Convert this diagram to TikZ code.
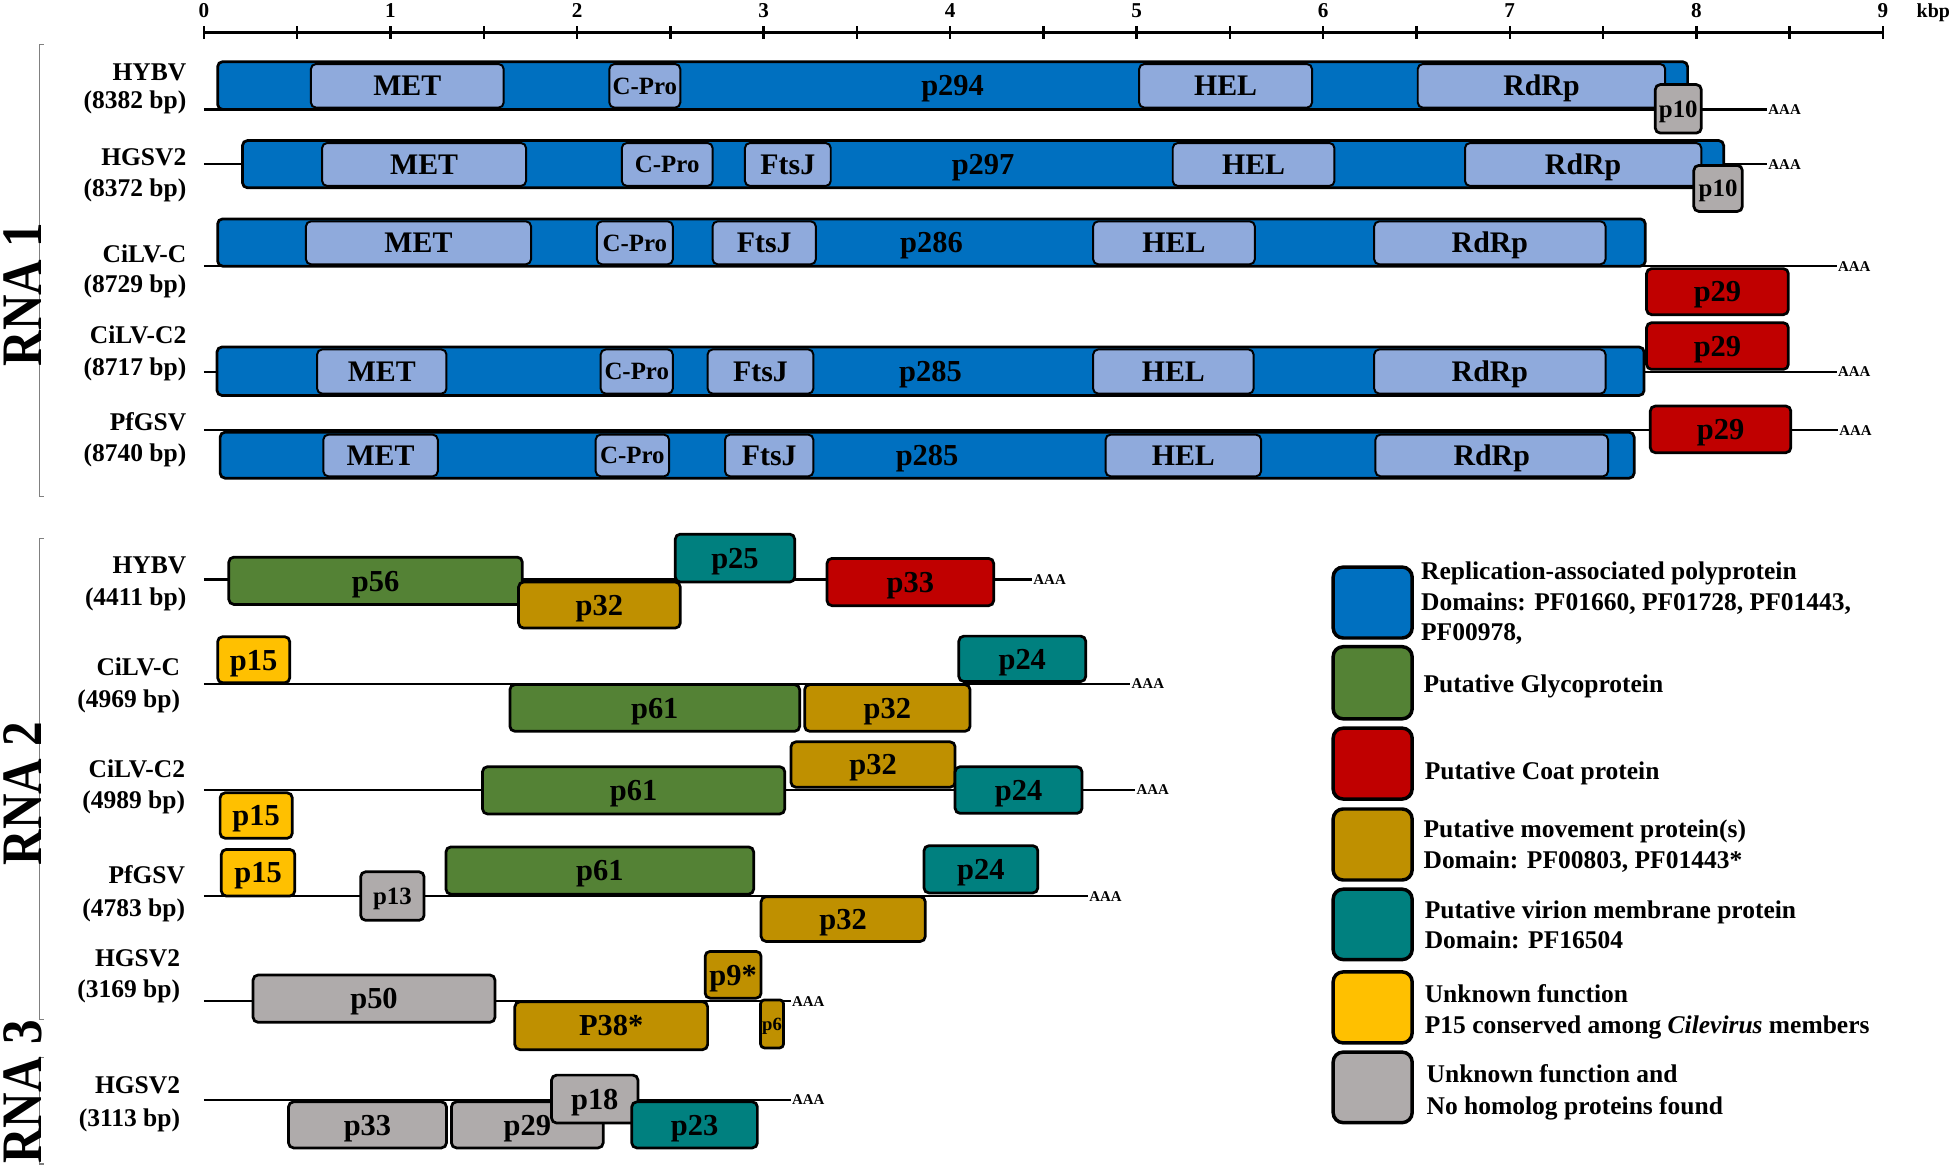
\documentclass[tikz,border=0pt]{standalone}
\usepackage{fontspec}
\setmainfont{Liberation Serif}
\usepackage{graphicx}
\definecolor{crep}{HTML}{0070C0}
\definecolor{cdom}{HTML}{8FAADC}
\definecolor{cgly}{HTML}{548235}
\definecolor{ccoat}{HTML}{C00000}
\definecolor{cmov}{HTML}{BF9000}
\definecolor{cvir}{HTML}{00807F}
\definecolor{cunk}{HTML}{FFC000}
\definecolor{cgray}{HTML}{AFABAB}
\definecolor{cbrk}{HTML}{808080}
\newcommand\gb[7]{%
 \pgfmathsetmacro\gbcx{(#3+#4)/2}%
 \pgfmathsetmacro\gbcy{(#5+#6)/2}%
 \pgfmathsetmacro\gbw{#4-#3}%
 \pgfmathsetmacro\gbh{#6-#5}%
 \node[#2, minimum width=\gbw pt, minimum height=\gbh pt] (#1) at (\gbcx,\gbcy) {#7};}
\tikzset{
 gbox/.style={draw=black, line width=2.2pt, rounded corners=4pt, inner sep=0pt, text=black,
   font=\bfseries\fontsize{24.5}{24.5}\selectfont, text height=16.5pt, text depth=0pt},
 bxrep/.style={gbox, fill=crep},
 bxdom/.style={gbox, fill=cdom, line width=1.6pt, font=\bfseries\fontsize{24}{24}\selectfont, text height=16.2pt},
 smalltxt/.style={font=\bfseries\fontsize{20}{20}\selectfont, text height=13.5pt},
 bxgly/.style={gbox, fill=cgly},
 bxcoat/.style={gbox, fill=ccoat},
 bxmov/.style={gbox, fill=cmov},
 bxvir/.style={gbox, fill=cvir},
 bxunk/.style={gbox, fill=cunk},
 bxgray/.style={gbox, fill=cgray},
 gline/.style={line width=1.7pt},
 aaa/.style={anchor=west, inner sep=0.8pt, font=\bfseries\fontsize{12}{12}\selectfont, text height=8pt, text depth=0pt},
 lab/.style={anchor=east, inner sep=0pt, font=\bfseries\fontsize{20.5}{20.5}\selectfont, text height=13.6pt, text depth=0pt},
 leg/.style={anchor=west, inner sep=0pt, font=\bfseries\fontsize{20.5}{20.5}\selectfont, text height=13.6pt, text depth=0pt},
 legbox/.style={draw=black, line width=2.8pt, rounded corners=8pt, inner sep=0pt},
 brk/.style={draw=cbrk, line width=0.9pt},
 rnalab/.style={rotate=90, inner sep=0pt, font=\bfseries\fontsize{46}{46}\selectfont, text height=30.5pt, text depth=0pt},
 axlab/.style={inner sep=0pt, font=\bfseries\fontsize{17}{17}\selectfont, text height=11.5pt, text depth=0pt},
}
\begin{document}
\begin{tikzpicture}[x=1pt,y=-1pt]
\useasboundingbox[fill=white] (0,0) rectangle (1568,938);

% ---------- axis ----------
\coordinate (axs) at (164,26);
\coordinate (axe) at (1514,26);
\draw[line width=2.5pt] (axs) -- (axe);
\foreach \i in {0,...,18}{\draw[line width=2pt] ({164+75*\i},21) -- ({164+75*\i},31.6);}
\foreach \i in {0,...,9}{\node[axlab] (ax\i) at ({164+150*\i},8.5) {\i};}
\node[axlab, anchor=west, font=\bfseries\fontsize{16}{16}\selectfont] (kbp) at (1541,8.5) {kbp};

% ---------- brackets and RNA labels ----------
\draw[brk] (35,36) -- (32,36) -- (32,399) -- (35,399);
\draw[brk] (35,433) -- (32,433) -- (32,820) -- (35,820);
\draw[brk] (35,850) -- (32,850) -- (32,936) -- (35,936);
\node[rnalab] (rna1) at (18,237) {\scalebox{0.86}[1]{RNA 1}};
\node[rnalab] (rna2) at (18,638) {\scalebox{0.86}[1]{RNA 2}};
\node[rnalab] (rna3) at (18,878) {\scalebox{0.86}[1]{RNA 3}};

% ---------- RNA 1 labels ----------
\node[lab] (l1a) at (150,58) {HYBV};
\node[lab] (l1b) at (150,80.5) {(8382 bp)};
\node[lab] (l2a) at (150,126) {HGSV2};
\node[lab] (l2b) at (150,151) {(8372 bp)};
\node[lab] (l3a) at (150,204) {CiLV-C};
\node[lab] (l3b) at (150,228) {(8729 bp)};
\node[lab] (l4a) at (150,269.5) {CiLV-C2};
\node[lab] (l4b) at (150,295) {(8717 bp)};
\node[lab] (l5a) at (150,339) {PfGSV};
\node[lab] (l5b) at (150,364.5) {(8740 bp)};

% ---------- RNA 1: HYBV ----------
\coordinate (s1) at (164,88);
\node[aaa] (a1) at (1421,88) {AAA};
\draw[gline] (s1) -- (a1.west);
\gb{h1}{bxrep}{175}{1357}{49.6}{88}{p294}
\gb{h1met}{bxdom}{250}{405}{51.5}{86.5}{MET}
\gb{h1cp}{bxdom,smalltxt}{490}{547}{51.5}{86.5}{C-Pro}
\gb{h1hel}{bxdom}{916}{1055}{51.5}{86.5}{HEL}
\gb{h1rd}{bxdom}{1140}{1339}{51.5}{86.5}{RdRp}
\gb{h1p10}{bxgray,smalltxt}{1331}{1368}{68}{107}{p10}

% ---------- RNA 1: HGSV2 ----------
\coordinate (s2) at (164,132);
\node[aaa] (a2) at (1421,132) {AAA};
\draw[gline] (s2) -- (a2.west);
\gb{h2}{bxrep}{195}{1386}{113}{151}{p297}
\gb{h2met}{bxdom}{259}{423}{115}{149.5}{MET}
\gb{h2cp}{bxdom,smalltxt}{500}{573}{115}{149.5}{C-Pro}
\gb{h2ft}{bxdom}{599}{668}{115}{149.5}{FtsJ}
\gb{h2hel}{bxdom}{943}{1073}{115}{149.5}{HEL}
\gb{h2rd}{bxdom}{1178}{1368}{115}{149.5}{RdRp}
\gb{h2p10}{bxgray,smalltxt}{1362}{1401}{133}{170}{p10}

% ---------- RNA 1: CiLV-C ----------
\coordinate (s3) at (164,214);
\node[aaa] (a3) at (1477,214) {AAA};
\draw[gline] (s3) -- (a3.west);
\gb{h3}{bxrep}{175}{1323}{176}{214}{p286}
\gb{h3met}{bxdom}{246}{427}{178}{212.5}{MET}
\gb{h3cp}{bxdom,smalltxt}{480}{541}{178}{212.5}{C-Pro}
\gb{h3ft}{bxdom}{573}{656}{178}{212.5}{FtsJ}
\gb{h3hel}{bxdom}{879}{1009}{178}{212.5}{HEL}
\gb{h3rd}{bxdom}{1105}{1291}{178}{212.5}{RdRp}
\gb{h3p29}{bxcoat}{1324}{1438}{216}{253}{p29}

% ---------- RNA 1: CiLV-C2 ----------
\coordinate (s4) at (164,299);
\node[aaa] (a4) at (1477,299) {AAA};
\draw[gline] (s4) -- (a4.west);
\gb{h4}{bxrep}{174.5}{1322}{279}{318}{p285}
\gb{h4met}{bxdom}{255}{359}{281}{316.5}{MET}
\gb{h4cp}{bxdom,smalltxt}{483}{541}{281}{316.5}{C-Pro}
\gb{h4ft}{bxdom}{569}{654}{281}{316.5}{FtsJ}
\gb{h4hel}{bxdom}{879}{1008}{281}{316.5}{HEL}
\gb{h4rd}{bxdom}{1105}{1291}{281}{316.5}{RdRp}
\gb{h4p29}{bxcoat}{1324}{1438}{259.5}{297}{p29}

% ---------- RNA 1: PfGSV ----------
\coordinate (s5) at (164,346);
\node[aaa] (a5) at (1478,346) {AAA};
\draw[gline] (s5) -- (a5.west);
\gb{h5}{bxrep}{177}{1314}{347.5}{384.5}{p285}
\gb{h5met}{bxdom}{260}{352}{349.5}{383}{MET}
\gb{h5cp}{bxdom,smalltxt}{479}{538}{349.5}{383}{C-Pro}
\gb{h5ft}{bxdom}{583}{654}{349.5}{383}{FtsJ}
\gb{h5hel}{bxdom}{889}{1014}{349.5}{383}{HEL}
\gb{h5rd}{bxdom}{1106}{1293}{349.5}{383}{RdRp}
\gb{h5p29}{bxcoat}{1327}{1440}{326.5}{364}{p29}

% ---------- RNA 2 labels ----------
\node[lab] (m1a) at (150,454) {HYBV};
\node[lab] (m1b) at (150,480) {(4411 bp)};
\node[lab] (m2a) at (145,536) {CiLV-C};
\node[lab] (m2b) at (145,562) {(4969 bp)};
\node[lab] (m3a) at (149,618) {CiLV-C2};
\node[lab] (m3b) at (149,643) {(4989 bp)};
\node[lab] (m4a) at (149,703.6) {PfGSV};
\node[lab] (m4b) at (149,730) {(4783 bp)};
\node[lab] (m5a) at (145,770) {HGSV2};
\node[lab] (m5b) at (145,795) {(3169 bp)};
\node[lab] (n1a) at (145,872.5) {HGSV2};
\node[lab] (n1b) at (145,899) {(3113 bp)};

% ---------- RNA 2: HYBV ----------
\coordinate (t1) at (164,466);
\node[aaa] (b1) at (830,466) {AAA};
\draw[gline] (t1) -- (b1.west);
\gb{r1p56}{bxgly}{184}{420}{448}{486}{p56}
\gb{r1p32}{bxmov}{417}{547}{468}{505}{p32}
\gb{r1p25}{bxvir}{543}{639}{429.5}{468}{p25}
\gb{r1p33}{bxcoat}{665}{799}{449}{487}{p33}

% ---------- RNA 2: CiLV-C ----------
\coordinate (t2) at (164,550);
\node[aaa] (b2) at (909,550) {AAA};
\draw[gline] (t2) -- (b2.west);
\gb{r2p15}{bxunk}{175}{233}{512}{549}{p15}
\gb{r2p24}{bxvir}{771}{873}{511.5}{548}{p24}
\gb{r2p61}{bxgly}{410}{643}{550.5}{588}{p61}
\gb{r2p32}{bxmov}{647}{780}{550.5}{588}{p32}

% ---------- RNA 2: CiLV-C2 ----------
\coordinate (t3) at (164,635);
\node[aaa] (b3) at (913,635) {AAA};
\draw[gline] (t3) -- (b3.west);
\gb{r3p15}{bxunk}{177}{235}{637.5}{674}{p15}
\gb{r3p61}{bxgly}{388}{631}{616.5}{654.5}{p61}
\gb{r3p32}{bxmov}{636}{768}{596.5}{633}{p32}
\gb{r3p24}{bxvir}{768}{870}{616.5}{654}{p24}

% ---------- RNA 2: PfGSV ----------
\coordinate (t4) at (164,720.5);
\node[aaa] (b4) at (875,720.5) {AAA};
\draw[gline] (t4) -- (b4.west);
\gb{r4p15}{bxunk}{178}{237}{683}{720.5}{p15}
\gb{r4p13}{bxgray,smalltxt}{290}{341}{701}{740}{p13}
\gb{r4p61}{bxgly}{358.6}{606}{681}{719}{p61}
\gb{r4p24}{bxvir}{743}{834.5}{680}{718}{p24}
\gb{r4p32}{bxmov}{612}{744}{721}{757}{p32}

% ---------- RNA 2: HGSV2 ----------
\coordinate (t5) at (164,805);
\node[aaa] (b5) at (636,805) {AAA};
\draw[gline] (t5) -- (b5.west);
\gb{r5p50}{bxgray}{203.5}{398}{784}{822}{p50}
\gb{r5p38}{bxmov}{414}{569}{805.5}{844}{P38*}
\gb{r5p9}{bxmov}{567}{612}{765}{802.6}{p9*}
\gb{r5p6}{bxmov,rounded corners=3pt,font=\bfseries\fontsize{15}{15}\selectfont,text height=10pt}{611.6}{630}{804}{842.6}{p6}

% ---------- RNA 3: HGSV2 ----------
\coordinate (t6) at (164,884.5);
\node[aaa] (b6) at (636,884.5) {AAA};
\draw[gline] (t6) -- (b6.west);
\gb{q1p33}{bxgray}{232}{359}{886}{923}{p33}
\gb{q1p29}{bxgray}{363}{485}{886}{923}{p29}
\gb{q1p18}{bxgray}{443.5}{513}{864.5}{903}{p18}
\gb{q1p23}{bxvir}{508}{609}{886}{923}{p23}

% ---------- legend ----------
\gb{k1}{legbox,fill=crep}{1072}{1135.5}{456}{513}{}
\gb{k2}{legbox,fill=cgly}{1072}{1135.5}{520}{578}{}
\gb{k3}{legbox,fill=ccoat}{1072}{1135.5}{585.5}{642.5}{}
\gb{k4}{legbox,fill=cmov}{1072}{1135.5}{650.5}{707.6}{}
\gb{k5}{legbox,fill=cvir}{1072}{1135.5}{715}{771.6}{}
\gb{k6}{legbox,fill=cunk}{1072}{1135.5}{781.5}{838.6}{}
\gb{k7}{legbox,fill=cgray}{1072}{1135.5}{846}{902.7}{}
\node[leg] (k1a) at (1142.5,459.5) {Replication-associated polyprotein};
\node[leg] (k1b) at (1142.5,484) {Domains: PF01660, PF01728, PF01443,};
\node[leg] (k1c) at (1142.5,508.5) {PF00978,};
\node[leg] (k2a) at (1144.5,549.8) {Putative Glycoprotein};
\node[leg] (k3a) at (1145.5,620.3) {Putative Coat protein};
\node[leg] (k4a) at (1144.5,666.4) {Putative movement protein(s)};
\node[leg] (k4b) at (1144.5,691.2) {Domain: PF00803, PF01443*};
\node[leg] (k5a) at (1145.5,731.4) {Putative virion membrane protein};
\node[leg] (k5b) at (1145.5,755.9) {Domain: PF16504};
\node[leg] (k6a) at (1145.5,799.3) {Unknown function};
\node[leg] (k6b) at (1145.5,824.6) {P15 conserved among \textit{Cilevirus} members};
\node[leg] (k7a) at (1147,864) {Unknown function and};
\node[leg] (k7b) at (1147,889.3) {No homolog proteins found};
\end{tikzpicture}
\end{document}
